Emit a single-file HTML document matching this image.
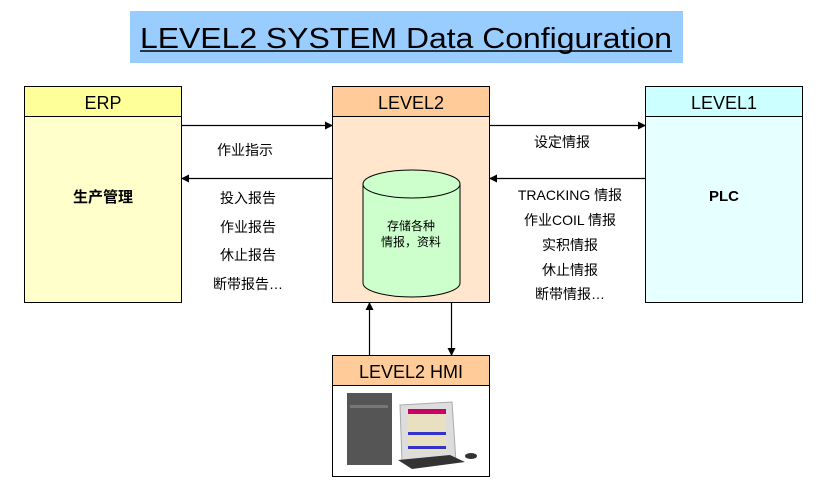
<!DOCTYPE html>
<html><head><meta charset="utf-8"><style>
html,body{margin:0;padding:0;background:#fff;width:824px;height:487px;overflow:hidden}
text{font-family:"Liberation Sans","Noto Sans CJK SC",sans-serif;fill:#000}
</style></head><body>
<svg width="824" height="487" viewBox="0 0 824 487" xmlns="http://www.w3.org/2000/svg">
<defs><marker id="a" markerWidth="8" markerHeight="8" refX="7" refY="4" orient="auto" markerUnits="userSpaceOnUse"><path d="M0,0 L8,4 L0,8 z" fill="#000"/></marker></defs>
<rect x="130" y="11" width="553" height="52" fill="#99ccff"/>
<text x="140" y="48" font-size="29" textLength="532" lengthAdjust="spacingAndGlyphs">LEVEL2 SYSTEM Data Configuration</text>
<line x1="140" y1="51" x2="672" y2="51" stroke="#000" stroke-width="1.5"/>
<!-- ERP -->
<rect x="24.5" y="86.5" width="157" height="216" fill="#ffffcc" stroke="#000"/>
<rect x="24.5" y="86.5" width="157" height="30" fill="#ffff99" stroke="#000"/>
<text x="103" y="109" font-size="18" text-anchor="middle">ERP</text>
<text x="103" y="202" font-size="15" font-weight="bold" text-anchor="middle">生产管理</text>
<!-- LEVEL2 -->
<rect x="332.5" y="86.5" width="157" height="216" fill="#ffe6cc" stroke="#000"/>
<rect x="332.5" y="86.5" width="157" height="30" fill="#ffcc99" stroke="#000"/>
<text x="411" y="109" font-size="18" text-anchor="middle">LEVEL2</text>
<!-- LEVEL1 -->
<rect x="645.5" y="86.5" width="157" height="216" fill="#e6ffff" stroke="#000"/>
<rect x="645.5" y="86.5" width="157" height="30" fill="#ccffff" stroke="#000"/>
<text x="724" y="109" font-size="18" text-anchor="middle">LEVEL1</text>
<text x="724" y="201" font-size="15" font-weight="bold" text-anchor="middle">PLC</text>
<!-- cylinder -->
<path d="M363,184 L363,283 A48.5,14 0 0 0 460,283 L460,184" fill="#ccffcc" stroke="#000"/>
<ellipse cx="411.5" cy="184" rx="48.5" ry="14" fill="#ccffcc" stroke="#000"/>
<text x="411" y="230" font-size="12" text-anchor="middle">存储各种</text>
<text x="411" y="246" font-size="12" text-anchor="middle">情报，资料</text>
<!-- arrows -->
<g stroke="#000" stroke-width="1.2">
<line x1="182" y1="125.5" x2="332" y2="125.5" marker-end="url(#a)"/>
<line x1="332" y1="178.5" x2="182" y2="178.5" marker-end="url(#a)"/>
<line x1="490" y1="125.5" x2="645" y2="125.5" marker-end="url(#a)"/>
<line x1="645" y1="178.5" x2="490" y2="178.5" marker-end="url(#a)"/>
<line x1="369.5" y1="355" x2="369.5" y2="303" marker-end="url(#a)"/>
<line x1="451.5" y1="303" x2="451.5" y2="355" marker-end="url(#a)"/>
</g>
<g font-size="14" text-anchor="middle">
<text x="245" y="155">作业指示</text>
<text x="248" y="203">投入报告</text>
<text x="248" y="232">作业报告</text>
<text x="248" y="260">休止报告</text>
<text x="248" y="289">断带报告…</text>
<text x="562" y="147">设定情报</text>
<text x="570" y="200">TRACKING 情报</text>
<text x="570" y="225">作业COIL 情报</text>
<text x="570" y="250">实积情报</text>
<text x="570" y="275">休止情报</text>
<text x="570" y="299">断带情报…</text>
</g>
<!-- HMI -->
<rect x="332.5" y="355.5" width="157" height="121" fill="#fff" stroke="#000"/>
<rect x="332.5" y="355.5" width="157" height="30" fill="#ffcc99" stroke="#000"/>
<text x="411" y="378" font-size="18" text-anchor="middle">LEVEL2 HMI</text>
<!-- computer -->
<rect x="347" y="393" width="45" height="72" fill="#555"/>
<rect x="350" y="405" width="38" height="3" fill="#777"/>
<path d="M400,405 L452,402 L456,462 L402,462 z" fill="#ddd" stroke="#aaa"/>
<rect x="408" y="409" width="38" height="42" fill="#e8e0c0"/>
<rect x="408" y="409" width="38" height="5" fill="#c06"/>
<rect x="408" y="432" width="38" height="3" fill="#33c"/>
<rect x="408" y="446" width="38" height="3" fill="#33c"/>
<path d="M398,460 L450,455 L465,462 L412,469 z" fill="#333"/>
<ellipse cx="471" cy="456" rx="6" ry="3" fill="#333"/>
</svg>
</body></html>
